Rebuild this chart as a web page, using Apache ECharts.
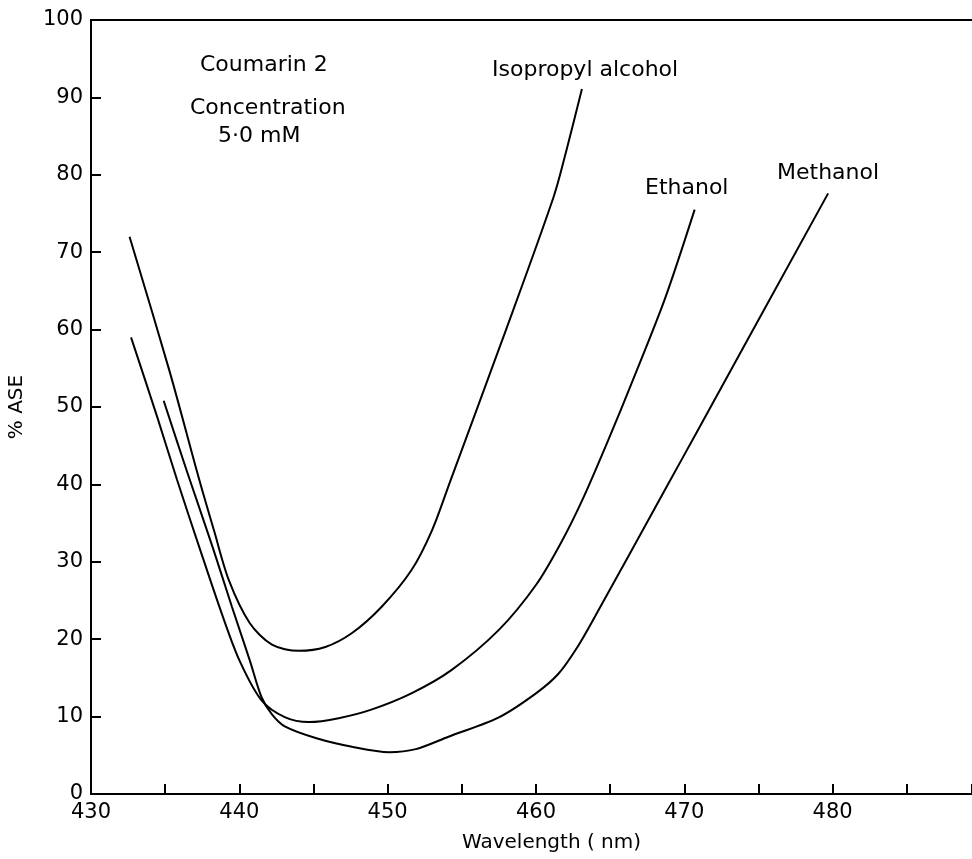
<!DOCTYPE html>
<html>
<head>
<meta charset="utf-8">
<script src="https://cdn.jsdelivr.net/npm/echarts@6/dist/echarts.min.js"></script>
<style>
html,body{margin:0;padding:0;background:#fff;}
#chart{width:972px;height:859px;}
</style>
</head>
<body>
<div id="chart"></div>
<script>
// Data (wavelength in nm, % ASE)
const isoX = [432.6, 435.3, 437.3, 438.3, 439.3, 440.7, 442.2, 444.0, 445.8, 447.6, 449.6, 451.6, 453.0, 454.2, 457.7, 461.2, 462.1, 463.1];
const isoY = [72.0, 54.6, 40.6, 34.0, 27.6, 22.1, 19.3, 18.5, 19.0, 20.8, 24.2, 28.9, 34.1, 40.3, 58.5, 77.2, 83.5, 91.1];

const ethX = [432.7, 434.5, 435.8, 437.3, 438.8, 440.0, 441.5, 443.1, 444.7, 446.7, 448.9, 451.6, 454.3, 457.5, 460.0, 461.7, 463.2, 465.0, 466.5, 468.7, 470.7];
const ethY = [59.0, 48.5, 40.6, 31.9, 23.4, 17.3, 12.1, 9.9, 9.3, 9.8, 10.9, 13.0, 16.0, 21.2, 27.0, 32.5, 38.3, 46.3, 53.3, 64.0, 75.5];

const metX = [434.9, 436.5, 438.2, 439.5, 440.7, 441.5, 442.2, 443.1, 445.2, 447.6, 450.1, 451.9, 454.1, 457.5, 460.0, 461.5, 462.8, 464.0, 468.7, 471.0, 479.7];
const metY = [50.8, 41.5, 31.9, 24.2, 17.3, 12.5, 10.3, 8.7, 7.2, 6.1, 5.4, 5.8, 7.4, 9.9, 13.0, 15.5, 19.0, 23.0, 39.3, 47.3, 77.6];

const seriesNames = ['Isopropyl alcohol', 'Ethanol', 'Methanol'];
const xMin = 430, xMax = 489.4, xStep = 5;
const yMin = 0, yMax = 100, yStep = 10;

function pairs(xs, ys) { return xs.map((x, i) => [x, ys[i]]); }

const FONT = "'DejaVu Sans', sans-serif";
const chart = echarts.init(document.getElementById('chart'), null, {renderer: 'canvas'});

const lineSeries = (name, xs, ys) => ({
  name: name,
  type: 'line',
  xAxisIndex: 0,
  yAxisIndex: 0,
  data: pairs(xs, ys),
  smooth: 0.3,
  showSymbol: false,
  symbol: 'none',
  lineStyle: {color: '#000', width: 2},
  silent: true
});

const annot = (text, left, top) => ({
  type: 'text', left: left, top: top,
  style: {text: text, fill: '#000', font: '22px ' + FONT}
});

chart.setOption({
  animation: false,
  backgroundColor: '#fff',
  grid: {left: 91, right: 0, top: 20, bottom: 65, containLabel: false, outerBoundsMode: 'none'},
  xAxis: [{
    type: 'value',
    min: xMin, max: xMax, interval: xStep,
    position: 'bottom',
    axisLine: {show: true, onZero: false, lineStyle: {color: '#000', width: 2}},
    axisTick: {show: true, inside: true, length: 10, lineStyle: {color: '#000', width: 2}},
    axisLabel: {
      margin: 8,
      color: '#000', fontFamily: FONT, fontSize: 21,
      formatter: v => (Math.abs(v % 10) < 1e-6 ? String(v) : '')
    },
    splitLine: {show: false},
    name: 'Wavelength ( nm)',
    nameLocation: 'middle',
    nameGap: 39,
    nameTextStyle: {color: '#000', fontFamily: FONT, fontSize: 20, padding: [0, 0, 0, 40]}
  }, {
    type: 'value',
    min: xMin, max: xMax, interval: xStep,
    position: 'top',
    axisLine: {show: true, onZero: false, lineStyle: {color: '#000', width: 2}},
    axisTick: {show: false},
    axisLabel: {show: false},
    splitLine: {show: false}
  }],
  yAxis: {
    type: 'value',
    min: yMin, max: yMax, interval: yStep,
    axisLine: {show: true, onZero: false, lineStyle: {color: '#000', width: 2}},
    axisTick: {show: true, inside: true, length: 10, lineStyle: {color: '#000', width: 2}},
    axisLabel: {margin: 8, color: '#000', fontFamily: FONT, fontSize: 21},
    splitLine: {show: false},
    name: '% ASE',
    nameLocation: 'middle',
    nameRotate: 90,
    nameGap: 64,
    nameTextStyle: {color: '#000', fontFamily: FONT, fontSize: 20}
  },
  graphic: [
    annot('Coumarin 2', 200, 54),
    annot('Concentration', 190, 97),
    annot('5·0 mM', 218, 125),
    annot(seriesNames[0], 492, 59),
    annot(seriesNames[1], 645, 177),
    annot(seriesNames[2], 777, 162)
  ],
  series: [
    lineSeries(seriesNames[0], isoX, isoY),
    lineSeries(seriesNames[1], ethX, ethY),
    lineSeries(seriesNames[2], metX, metY)
  ]
});
</script>
</body>
</html>
